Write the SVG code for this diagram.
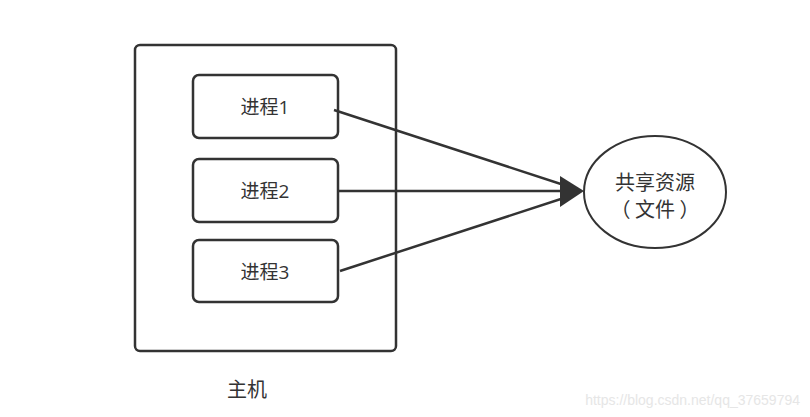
<svg xmlns="http://www.w3.org/2000/svg" width="810" height="417" viewBox="0 0 810 417">
<defs>
<style>
.box{fill:#fff;stroke:#333;stroke-width:2.5}
.t{font-family:"Open Sans","Noto Sans CJK SC",sans-serif;font-size:19px;fill:#333;text-anchor:middle}
.c{font-family:"Noto Sans CJK SC",sans-serif;font-size:20px;fill:#333;text-anchor:middle}
.ln{stroke:#333;stroke-width:2.5;fill:none}
</style>
</defs>
<rect width="810" height="417" fill="#fff"/>
<g id="host">
<rect class="box" x="135" y="45" width="261" height="306" rx="5"/>
<text class="c" x="247" y="397" font-size="19">主机</text>
</g>
<g id="p1">
<rect class="box" x="193" y="75" width="145" height="63" rx="6"/>
<text class="t" x="265" y="114">进程1</text>
</g>
<g id="p2">
<rect class="box" x="193" y="159" width="145" height="63" rx="6"/>
<text class="t" x="265" y="198">进程2</text>
</g>
<g id="p3">
<rect class="box" x="193" y="240" width="145" height="62" rx="6"/>
<text class="t" x="265" y="279">进程3</text>
</g>
<g id="connectors">
<line class="ln" x1="334" y1="110" x2="570" y2="187"/>
<line class="ln" x1="338" y1="191" x2="570" y2="191"/>
<line class="ln" x1="340" y1="271" x2="570" y2="196"/>
<path d="M560,176 L584,191 L560,207 Z" fill="#333"/>
</g>
<g id="res">
<ellipse cx="655" cy="192" rx="71" ry="56" fill="#fff" stroke="#333" stroke-width="2"/>
<text class="c" x="655" y="190">共享资源</text>
<text class="c" x="655" y="217">（ 文件 ）</text>
</g>
<text x="800" y="405" font-family="Liberation Sans,Arial,sans-serif" font-size="14" fill="#e6e6e6" text-anchor="end">https://blog.csdn.net/qq_37659794</text>
</svg>
